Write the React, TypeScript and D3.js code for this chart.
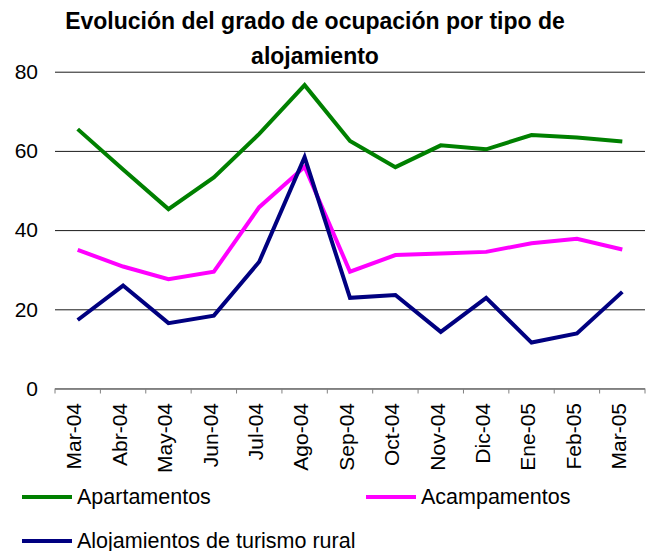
import React, { useRef, useEffect } from 'react';
import * as d3 from 'd3';

const months = ['Mar-04', 'Abr-04', 'May-04', 'Jun-04', 'Jul-04', 'Ago-04', 'Sep-04', 'Oct-04', 'Nov-04', 'Dic-04', 'Ene-05', 'Feb-05', 'Mar-05'];
const apartamentos = [65.5, 55.3, 45.3, 53.3, 64.3, 76.6, 62.5, 55.9, 61.4, 60.4, 64.0, 63.4, 62.4];
const acampamentos = [35.0, 30.8, 27.6, 29.5, 45.8, 56.0, 29.5, 33.7, 34.1, 34.5, 36.7, 37.8, 35.1];
const turismoRural = [17.3, 26.0, 16.5, 18.4, 32.0, 58.4, 22.9, 23.6, 14.3, 22.9, 11.6, 13.9, 24.4];
const yTicks = [0, 20, 40, 60, 80];
const titleLines = ['Evolución del grado de ocupación por tipo de', 'alojamiento'];

const width = 653;
const height = 551;
const font = '"Liberation Sans", Arial, sans-serif';

const App = () => {
    const svgRef = useRef<SVGSVGElement>(null);

    useEffect(() => {
        document.body.style.margin = '0';
        const svg = d3.select(svgRef.current);
        svg.selectAll('*').remove();

        const left = 55;
        const right = 645;
        const top = 71.7;
        const bottom = 388.5;

        const xScale = d3.scaleBand<string>().domain(months).range([left, right]).padding(0);
        const yScale = d3.scaleLinear().domain([0, 80]).range([bottom, top]);
        const cx = (m: string) => (xScale(m) as number) + xScale.bandwidth() / 2;

        // title
        svg.append('g')
            .selectAll('text')
            .data(titleLines)
            .join('text')
            .attr('x', 315)
            .attr('y', (d, i) => 28.5 + i * 35)
            .attr('text-anchor', 'middle')
            .style('font-family', font)
            .style('font-weight', 700)
            .style('font-size', '23px')
            .attr('fill', '#000')
            .text(d => d);

        // grid + y labels
        const yAxis = svg.append('g')
            .attr('transform', `translate(${left},0)`)
            .call(
                d3.axisLeft(yScale)
                    .tickValues(yTicks)
                    .tickSize(-(right - left))
                    .tickPadding(17)
            );
        yAxis.select('.domain').remove();
        yAxis.selectAll('line')
            .style('stroke', '#1a1a1a')
            .style('stroke-width', '1px');
        yAxis.selectAll('text')
            .style('font-family', font)
            .style('font-size', '21px')
            .attr('fill', '#000');

        // x axis
        const xg = svg.append('g');
        xg.append('line')
            .attr('x1', left)
            .attr('x2', right)
            .attr('y1', bottom)
            .attr('y2', bottom)
            .style('stroke', '#808080')
            .style('stroke-width', '1px');
        const bounds = months.map(m => xScale(m) as number).concat([right]);
        xg.selectAll('.tick')
            .data(bounds)
            .join('line')
            .attr('x1', d => d)
            .attr('x2', d => d)
            .attr('y1', bottom)
            .attr('y2', bottom + 5)
            .style('stroke', '#808080')
            .style('stroke-width', '1px');
        xg.selectAll('text')
            .data(months)
            .join('text')
            .attr('transform', d => `translate(${cx(d)},403) rotate(-90)`)
            .attr('text-anchor', 'end')
            .attr('dy', '0.18em')
            .style('font-family', font)
            .style('font-size', '21px')
            .attr('fill', '#000')
            .text(d => d);

        const series = [
            { name: 'Apartamentos', values: apartamentos, color: '#008000' },
            { name: 'Acampamentos', values: acampamentos, color: '#ff00ff' },
            { name: 'Alojamientos de turismo rural', values: turismoRural, color: '#000080' },
        ];

        const lineGenerator = d3.line<number>()
            .x((d, i) => cx(months[i]))
            .y(d => yScale(d));

        series.forEach(s => {
            svg.append('path')
                .attr('d', lineGenerator(s.values))
                .attr('fill', 'none')
                .attr('stroke', s.color)
                .attr('stroke-width', '4px')
                .attr('stroke-linejoin', 'miter');
        });

        // legend
        const legendPos = [
            { x: 22, y: 497 },
            { x: 366, y: 497 },
            { x: 22, y: 541 },
        ];
        series.forEach((s, i) => {
            const p = legendPos[i];
            svg.append('line')
                .attr('x1', p.x)
                .attr('x2', p.x + 50)
                .attr('y1', p.y)
                .attr('y2', p.y)
                .attr('stroke', s.color)
                .attr('stroke-width', '4px');
            svg.append('text')
                .attr('x', p.x + 55)
                .attr('y', p.y + 6.5)
                .style('font-family', font)
                .style('font-size', '21.5px')
                .attr('fill', '#000')
                .text(s.name);
        });
    }, []);

    return (
        <div>
            <svg ref={svgRef} width={width} height={height} style={{ display: 'block' }} />
        </div>
    );
};

export default App;
